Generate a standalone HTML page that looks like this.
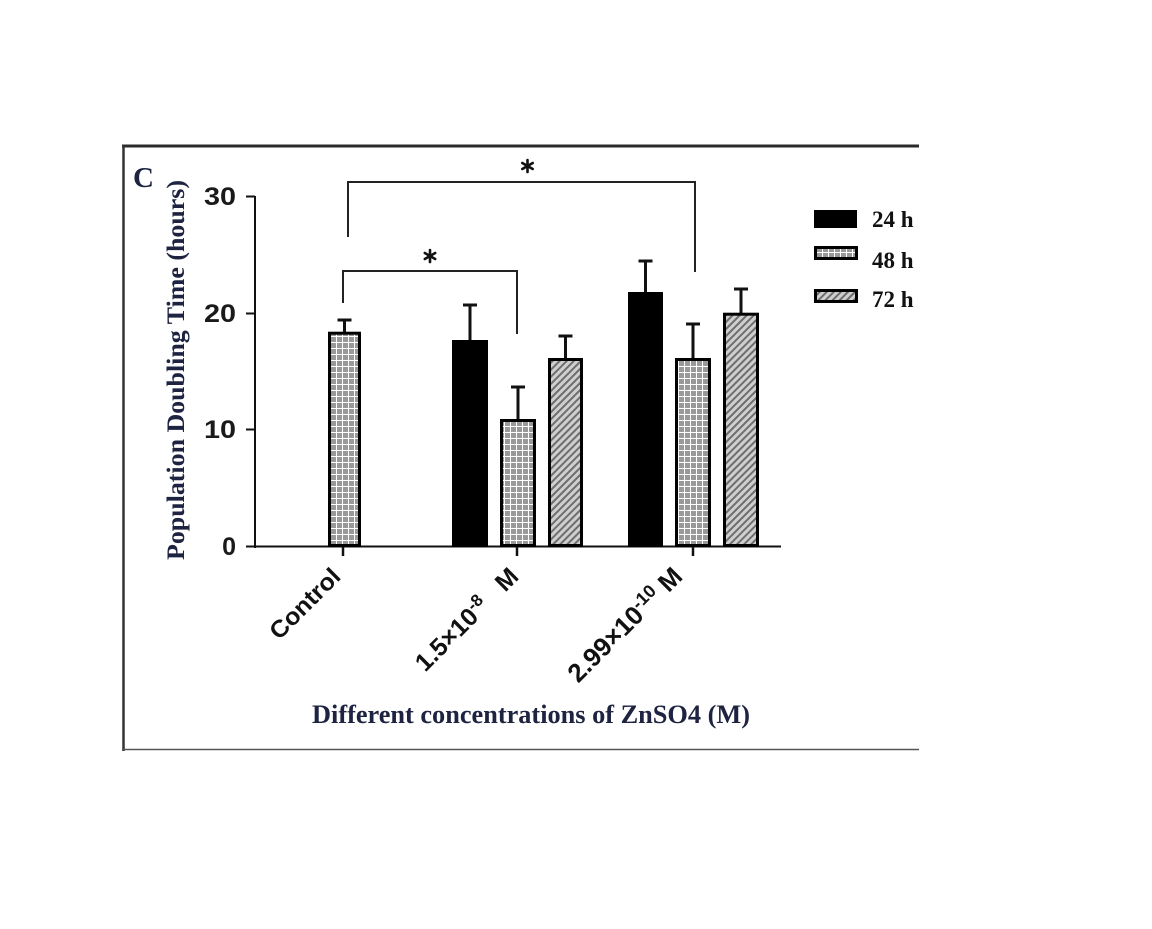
<!DOCTYPE html>
<html>
<head>
<meta charset="utf-8">
<style>
  html, body { margin:0; padding:0; background:#ffffff; }
  body { width:1152px; height:929px; overflow:hidden; }
  svg { display:block; }
</style>
</head>
<body>
<svg width="1152" height="929" viewBox="0 0 1152 929" xmlns="http://www.w3.org/2000/svg">
  <defs>
    <pattern id="check" patternUnits="userSpaceOnUse" width="6" height="6">
      <rect x="0" y="0" width="6" height="6" fill="#ffffff"/>
      <rect x="1" y="1" width="5" height="5" fill="#999999"/>
    </pattern>
    <pattern id="hatch" patternUnits="userSpaceOnUse" width="5" height="5" patternTransform="rotate(45)">
      <rect x="0" y="0" width="5" height="5" fill="#cfcfcf"/>
      <rect x="0" y="0" width="2" height="5" fill="#6e6e6e"/>
    </pattern>
    <clipPath id="frameclip">
      <rect x="0" y="0" width="919" height="929"/>
    </clipPath>
  </defs>

  <rect x="0" y="0" width="1152" height="929" fill="#ffffff"/>

  <!-- frame -->
  <line x1="122" y1="146" x2="919" y2="146" stroke="#2a2a2a" stroke-width="3"/>
  <line x1="123.5" y1="145" x2="123.5" y2="751" stroke="#333" stroke-width="2.5"/>
  <line x1="122" y1="749.5" x2="919" y2="749.5" stroke="#555" stroke-width="1.5"/>

  <!-- panel letter -->
  <text x="133" y="187" font-family="Liberation Serif, serif" font-weight="bold" font-size="29" fill="#1d2340">C</text>

  <!-- y axis label -->
  <text x="184" y="370" transform="rotate(-90 184 370)" text-anchor="middle" font-family="Liberation Serif, serif" font-weight="bold" font-size="25" fill="#1d2340" textLength="380" lengthAdjust="spacingAndGlyphs">Population Doubling Time (hours)</text>

  <!-- y axis -->
  <line x1="255" y1="196" x2="255" y2="548" stroke="#111" stroke-width="2"/>
  <line x1="246" y1="196.5" x2="255" y2="196.5" stroke="#111" stroke-width="2"/>
  <line x1="246" y1="313.5" x2="255" y2="313.5" stroke="#111" stroke-width="2"/>
  <line x1="246" y1="429.5" x2="255" y2="429.5" stroke="#111" stroke-width="2"/>
  <line x1="246" y1="546.5" x2="255" y2="546.5" stroke="#111" stroke-width="2"/>
  <g font-family="Liberation Sans, sans-serif" font-weight="bold" font-size="25" fill="#1a1a1a" text-anchor="end">
    <text x="236" y="205" textLength="32" lengthAdjust="spacingAndGlyphs">30</text>
    <text x="236" y="322" textLength="32" lengthAdjust="spacingAndGlyphs">20</text>
    <text x="236" y="438" textLength="32" lengthAdjust="spacingAndGlyphs">10</text>
    <text x="236" y="555">0</text>
  </g>

  <!-- x axis -->
  <line x1="254" y1="546.5" x2="781" y2="546.5" stroke="#111" stroke-width="2"/>
  <line x1="343" y1="546" x2="343" y2="556" stroke="#111" stroke-width="2.5"/>
  <line x1="517" y1="546" x2="517" y2="556" stroke="#111" stroke-width="2.5"/>
  <line x1="693" y1="546" x2="693" y2="556" stroke="#111" stroke-width="2.5"/>

  <!-- error bars -->
  <g stroke="#111" stroke-width="3" fill="none">
    <line x1="344.5" y1="320" x2="344.5" y2="332"/><line x1="337.5" y1="320" x2="351.5" y2="320"/>
    <line x1="470" y1="305" x2="470" y2="340"/><line x1="463" y1="305" x2="477" y2="305"/>
    <line x1="518" y1="387" x2="518" y2="419"/><line x1="511" y1="387" x2="525" y2="387"/>
    <line x1="565.5" y1="336" x2="565.5" y2="358"/><line x1="558.5" y1="336" x2="572.5" y2="336"/>
    <line x1="645.5" y1="261" x2="645.5" y2="292"/><line x1="638.5" y1="261" x2="652.5" y2="261"/>
    <line x1="693" y1="324" x2="693" y2="358"/><line x1="686" y1="324" x2="700" y2="324"/>
    <line x1="741" y1="289" x2="741" y2="313"/><line x1="734" y1="289" x2="748" y2="289"/>
  </g>

  <!-- bars -->
  <g stroke="#000" stroke-width="3">
    <rect x="329.5" y="333.2" width="30" height="212.3" fill="url(#check)"/>
    <rect x="453.5" y="341.5" width="33" height="204" fill="#000"/>
    <rect x="501.5" y="420.5" width="33" height="125" fill="url(#check)"/>
    <rect x="549.5" y="359.5" width="32" height="186" fill="url(#hatch)"/>
    <rect x="629.5" y="293.5" width="32" height="252" fill="#000"/>
    <rect x="676.5" y="359.5" width="33" height="186" fill="url(#check)"/>
    <rect x="724.5" y="314.2" width="33" height="231.3" fill="url(#hatch)"/>
  </g>

  <!-- significance brackets -->
  <g stroke="#222" stroke-width="2" fill="none">
    <polyline points="348,237 348,182 695,182 695,272"/>
    <polyline points="343,303 343,271 517,271 517,334"/>
  </g>
  <!-- asterisks -->
  <g stroke="#111" stroke-width="2.6" stroke-linecap="round">
    <line x1="430" y1="250" x2="430" y2="262"/>
    <line x1="424.8" y1="253" x2="435.2" y2="259"/>
    <line x1="424.8" y1="259" x2="435.2" y2="253"/>
    <line x1="527.5" y1="160" x2="527.5" y2="172"/>
    <line x1="522.3" y1="163" x2="532.7" y2="169"/>
    <line x1="522.3" y1="169" x2="532.7" y2="163"/>
  </g>

  <!-- x tick labels -->
  <g font-family="Liberation Sans, sans-serif" font-weight="bold" fill="#111">
    <text x="342" y="578" font-size="24" text-anchor="end" transform="rotate(-45 342 578)" textLength="89" lengthAdjust="spacingAndGlyphs">Control</text>
    <text x="520" y="578" font-size="25" text-anchor="end" transform="rotate(-45 520 578)">1.5×10<tspan font-size="17" dy="-9">-8</tspan><tspan dy="9" xml:space="preserve">   M</tspan></text>
    <text x="684" y="578" font-size="26" text-anchor="end" transform="rotate(-45 684 578)">2.99×10<tspan font-size="18" dy="-9">-10</tspan><tspan dy="9" xml:space="preserve"> M</tspan></text>
  </g>

  <!-- x axis title -->
  <text x="312" y="723" font-family="Liberation Serif, serif" font-weight="bold" font-size="26" fill="#1d2340" textLength="438" lengthAdjust="spacingAndGlyphs">Different concentrations of ZnSO4 (M)</text>

  <!-- legend -->
  <g clip-path="url(#frameclip)">
    <rect x="815" y="211" width="41" height="16" fill="#000" stroke="#000" stroke-width="2"/>
    <rect x="815.5" y="247.5" width="41" height="11" fill="url(#check)" stroke="#000" stroke-width="3"/>
    <rect x="815.5" y="290.5" width="41" height="11" fill="url(#hatch)" stroke="#000" stroke-width="3"/>
    <g font-family="Liberation Serif, serif" font-weight="bold" font-size="23" fill="#111">
      <text x="872" y="227">24 h</text>
      <text x="872" y="268">48 h</text>
      <text x="872" y="307">72 h</text>
    </g>
  </g>
</svg>
</body>
</html>
